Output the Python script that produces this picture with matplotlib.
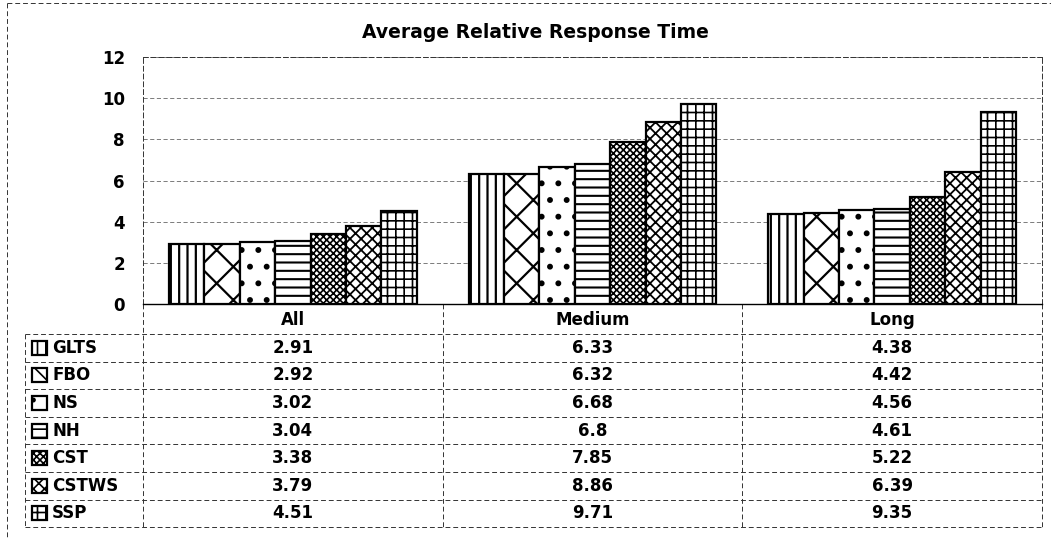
import matplotlib.pyplot as plt
from matplotlib.patches import Rectangle

plt.rcParams['font.family'] = ['DejaVu Sans']
plt.rcParams['font.weight'] = 'bold'
plt.rcParams['hatch.linewidth'] = 1.2

title = 'Average Relative Response Time'
groups = ['All', 'Medium', 'Long']
methods = ['GLTS', 'FBO', 'NS', 'NH', 'CST', 'CSTWS', 'SSP']
glts = [2.91, 6.33, 4.38]
fbo = [2.92, 6.32, 4.42]
ns = [3.02, 6.68, 4.56]
nh = [3.04, 6.8, 4.61]
cst = [3.38, 7.85, 5.22]
cstws = [3.79, 8.86, 6.39]
ssp = [4.51, 9.71, 9.35]
series = [glts, fbo, ns, nh, cst, cstws, ssp]
yticks = [0, 2, 4, 6, 8, 10, 12]

hatches = ['||', 'x', '.', '--', 'xxxxx', 'xxx', '++']
hatch_lw = [1.6, 1.6, 1.8, 1.5, 1.2, 1.3, 1.2]

W, H = 1051, 538
fig = plt.figure(figsize=(W / 100, H / 100), dpi=100)
fig.set_facecolor('white')

# pixel layout
px_left, px_right, px_top, px_zero = 143, 1042, 57, 304
ax = fig.add_axes([px_left / W, 1 - px_zero / H, (px_right - px_left) / W, (px_zero - px_top) / H])

bw = 0.118
for i, vals in enumerate(series):
    xs = [g + 0.5 + (i - 3) * bw for g in range(len(groups))]
    bars = ax.bar(xs, vals, bw, color='white', edgecolor='black', linewidth=1.6,
                  hatch=hatches[i], zorder=3)
    for b in bars:
        try:
            b.set_hatch_linewidth(hatch_lw[i])
        except AttributeError:
            pass

ax.set_xlim(0, 3)
ax.set_ylim(0, 12)
ax.set_yticks(yticks)
ax.set_yticklabels([str(t) for t in yticks], fontsize=12, fontweight='bold')
ax.tick_params(axis='y', length=0, pad=13)
ax.set_xticks([])
ax.grid(axis='y', color='#666666', linestyle=(0, (5, 3)), linewidth=0.6, zorder=0)
for s in ['top', 'right', 'left']:
    ax.spines[s].set_linestyle((0, (5, 3)))
    ax.spines[s].set_linewidth(0.7)
    ax.spines[s].set_color('#333333')
ax.spines['bottom'].set_linewidth(1.0)

# table under the chart, drawn in pixel coordinates
tb = fig.add_axes([0, 0, 1, 1], zorder=-1)
tb.set_xlim(0, W)
tb.set_ylim(H, 0)
tb.axis('off')

dash = dict(color='#333333', linewidth=0.7, linestyle=(0, (5, 3)))
col_w = (px_right - px_left) / len(groups)
row_top, row_h = 334, 27.6
lab_left = 25
n = len(methods)
row_bot = row_top + n * row_h

fig.text(535 / W, 1 - 32 / H, title, ha='center', va='center', fontsize=13.5, fontweight='bold')

# outer border
tb.plot([7, 7], [3, H], **dash)
tb.plot([7, W], [3, 3], **dash)

# grid of table
for k in range(len(groups) + 1):
    x = px_left + k * col_w
    tb.plot([x, x], [px_zero, row_bot], **dash)
tb.plot([lab_left, lab_left], [row_top, row_bot], **dash)
for r in range(n + 1):
    y = row_top + r * row_h
    tb.plot([lab_left, px_right], [y, y], **dash)

for k, g in enumerate(groups):
    tb.text(px_left + (k + 0.5) * col_w, 320, g, ha='center', va='center',
            fontsize=12, fontweight='bold')

for r, m in enumerate(methods):
    yc = row_top + (r + 0.5) * row_h
    key = Rectangle((32, yc - 7), 15, 14, facecolor='white', edgecolor='black',
                    linewidth=1.6, hatch=hatches[r])
    tb.add_patch(key)
    tb.text(52, yc, m, ha='left', va='center', fontsize=12, fontweight='bold')
    for k in range(len(groups)):
        tb.text(px_left + (k + 0.5) * col_w, yc, f'{series[r][k]:g}', ha='center',
                va='center', fontsize=12, fontweight='bold')

fig.savefig('out.png', dpi=100, facecolor='white')
